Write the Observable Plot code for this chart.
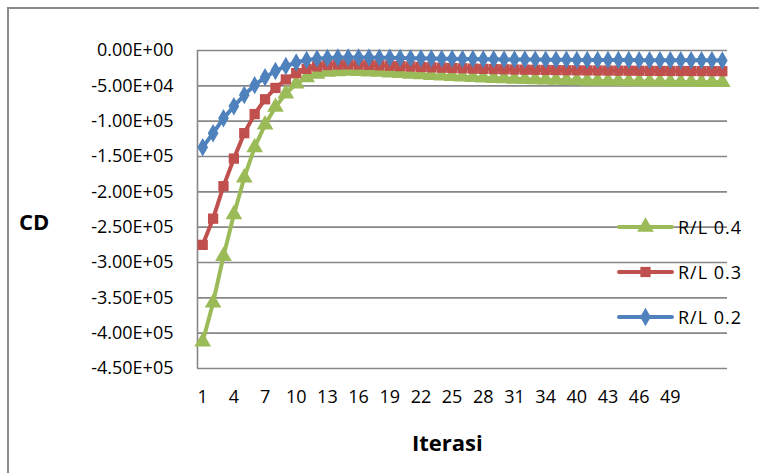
<!DOCTYPE html>
<html>
<head>
<meta charset="utf-8">
<script src="https://cdn.jsdelivr.net/npm/d3@7"></script>
<script src="https://cdn.jsdelivr.net/npm/@observablehq/plot@0.6"></script>
<style>
  html, body { margin: 0; padding: 0; background: #fff; }
  #wrap { position: relative; width: 759px; height: 473px; overflow: hidden; font-family: "Open Sans", sans-serif; }
  #frame { position: absolute; left: 7px; top: 7px; width: 760px; height: 470px; border-top: 2px solid #8a8a8a; border-left: 2px solid #8a8a8a; box-sizing: border-box; pointer-events: none; }
  .lbl { position: absolute; font-weight: bold; color: #000; white-space: nowrap; }
  .leg { position: absolute; display: flex; align-items: center; font-size: 18px; letter-spacing: 1px; color: #000; }
</style>
</head>
<body>
<div id="wrap">
  <div id="chart"></div>
  <div id="frame"></div>
  <div class="lbl" style="left:19px; top:206px; font-size:22px;">CD</div>
  <div class="lbl" style="left:412px; top:427px; font-size:22px;">Iterasi</div>
  <div id="legend"></div>
</div>
<script>
// Iteration index (category positions)
const iterations = d3.range(1, 52);

// R/L 0.4 (green, triangles)
const rl04 = [
  -412000, -357000, -291000, -232000, -180000, -137000, -105000, -80000, -61000, -47000,
  -38000, -33000, -30500, -29500, -29000, -29200, -29800, -30500, -31300, -32200,
  -33100, -34000, -34900, -35700, -36500, -37200, -37900, -38500, -39100, -39600,
  -40100, -40600, -41000, -41400, -41800, -42100, -42400, -42700, -43000, -43200,
  -43400, -43600, -43800, -44000, -44200, -44300, -44500, -44600, -44700, -44800, -44900
];
// R/L 0.3 (red, squares)
const rl03 = [
  -275000, -238000, -192000, -153000, -117000, -90000, -69000, -53000, -41000, -32000,
  -26000, -22500, -20500, -19800, -19600, -19800, -20300, -20900, -21500, -22100,
  -22700, -23300, -23800, -24300, -24800, -25200, -25600, -26000, -26300, -26600,
  -26900, -27100, -27300, -27500, -27700, -27900, -28000, -28200, -28300, -28400,
  -28500, -28600, -28700, -28800, -28900, -29000, -29000, -29100, -29200, -29200, -29300
];
// R/L 0.2 (blue, diamonds)
const rl02 = [
  -137000, -117000, -96000, -79000, -63000, -49000, -38000, -29000, -22000, -17000,
  -13500, -11500, -10500, -10000, -9800, -9800, -9900, -10100, -10300, -10600,
  -10800, -11000, -11300, -11500, -11700, -11900, -12100, -12300, -12400, -12600,
  -12700, -12800, -12900, -13000, -13100, -13200, -13300, -13400, -13500, -13500,
  -13600, -13600, -13700, -13700, -13800, -13800, -13800, -13900, -13900, -13900, -14000
];

const seriesNames = ["R/L 0.4", "R/L 0.3", "R/L 0.2"];
const seriesColors = ["#9BBB59", "#C0504D", "#4F81BD"];
const seriesSymbols = ["triangle", "square", "diamond"];

// Axis ticks and labels as printed
const yTicks = [0, -50000, -100000, -150000, -200000, -250000, -300000, -350000, -400000, -450000];
const yTickLabels = ["0.00E+00", "-5.00E+04", "-1.00E+05", "-1.50E+05", "-2.00E+05", "-2.50E+05", "-3.00E+05", "-3.50E+05", "-4.00E+05", "-4.50E+05"];
const xTicks = [1, 4, 7, 10, 13, 16, 19, 22, 25, 28, 31, 34, 37, 40, 43, 46];
const xTickLabels = ["1", "4", "7", "10", "13", "16", "19", "22", "25", "28", "31", "34", "40", "43", "46", "49"];

const allSeries = [rl04, rl03, rl02];
const rows = [];
allSeries.forEach((vals, s) => vals.forEach((v, k) => rows.push({ it: iterations[k], v, s: seriesNames[s] })));

const markRadius = { "R/L 0.4": 6.2, "R/L 0.3": 5.8, "R/L 0.2": 5.6 };

const marks = [
  Plot.ruleY(yTicks, { stroke: "#878787", strokeWidth: 1.6 }),
  Plot.ruleX([0.5], { y1: -450000, y2: 0, stroke: "#878787", strokeWidth: 1.6 }),
  Plot.axisY(yTicks, {
    tickSize: 0, tickPadding: 24, fontSize: 18,
    tickFormat: (d) => yTickLabels[yTicks.indexOf(d)], label: null,
    style: { letterSpacing: "1px" }
  }),
  Plot.axisX(xTicks, {
    tickSize: 0, tickPadding: 22, fontSize: 18,
    tickFormat: (d) => xTickLabels[xTicks.indexOf(d)], label: null,
    style: { letterSpacing: "0.5px" }
  })
];
seriesNames.forEach((name, s) => {
  const data = rows.filter(r => r.s === name);
  marks.push(Plot.line(data, { x: "it", y: "v", stroke: seriesColors[s], strokeWidth: 4 }));
  marks.push(Plot.dot(data, { x: "it", y: "v", fill: seriesColors[s], symbol: seriesSymbols[s], r: markRadius[name], stroke: "none" }));
});

const chart = Plot.plot({
  width: 759,
  height: 473,
  marginLeft: 197,
  marginRight: 32,
  marginTop: 50,
  marginBottom: 105,
  style: { fontFamily: "'Open Sans', sans-serif", color: "#000", background: "transparent", overflow: "visible" },
  x: { type: "linear", domain: [0.5, 51.5], axis: null },
  y: { domain: [-450000, 0], axis: null },
  marks
});
document.getElementById("chart").appendChild(chart);

// Legend (R/L 0.4 on top, as in the original)
const legend = document.getElementById("legend");
const legendTops = [227, 272, 317];
seriesNames.forEach((name, s) => {
  const item = document.createElement("div");
  item.className = "leg";
  item.style.left = "617px";
  item.style.top = (legendTops[s] - 13) + "px";
  item.style.height = "26px";
  const svg = d3.create("svg").attr("width", 60).attr("height", 26);
  svg.append("line").attr("x1", 2).attr("x2", 55).attr("y1", 13).attr("y2", 13)
    .attr("stroke", seriesColors[s]).attr("stroke-width", 4).attr("stroke-linecap", "round");
  const sym = { triangle: d3.symbolTriangle, square: d3.symbolSquare, diamond: d3.symbolDiamond }[seriesSymbols[s]];
  const rr = markRadius[name];
  svg.append("path").attr("d", d3.symbol(sym, Math.PI * rr * rr)()).attr("transform", "translate(28.5,13)").attr("fill", seriesColors[s]);
  item.appendChild(svg.node());
  const t = document.createElement("span");
  t.textContent = name;
  t.style.marginLeft = "1px";
  item.appendChild(t);
  legend.appendChild(item);
});
</script>
</body>
</html>
